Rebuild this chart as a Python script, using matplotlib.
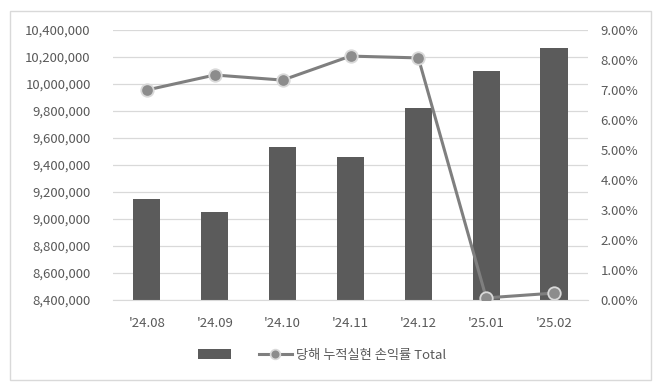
import matplotlib
matplotlib.use("Agg")
import matplotlib.pyplot as plt
from matplotlib.ticker import FuncFormatter, MultipleLocator
from matplotlib.lines import Line2D
from matplotlib.patches import Patch, Rectangle

plt.rcParams['font.family'] = ['Noto Sans CJK KR', 'DejaVu Sans']

categories = ["'24.08", "'24.09", "'24.10", "'24.11", "'24.12", "'25.01", "'25.02"]
bar_values = [9150000, 9050000, 9530000, 9460000, 9822000, 10100000, 10267000]
rate_values = [7.00, 7.50, 7.33, 8.13, 8.07, 0.07, 0.23]
line_label = "당해 누적실현 손익률 Total"

fig = plt.figure(figsize=(6.61, 3.9), dpi=100)
ax = fig.add_axes([113/661, 1 - 300/390, (588-113)/661, (300-30)/390])
ax2 = ax.twinx()

bar_color = '#5b5b5b'
line_color = '#7f7f7f'
text_color = '#595959'

x = list(range(len(categories)))
ax.bar(x, bar_values, width=0.4, color=bar_color, zorder=2)
ax.set_ylim(8400000, 10400000)
ax.set_xlim(-0.5, len(categories) - 0.5)
ax.yaxis.set_major_locator(MultipleLocator(200000))
ax.yaxis.set_major_formatter(FuncFormatter(lambda v, p: f"{int(round(v)):,}"))
ax.grid(axis='y', color='#d9d9d9', linewidth=0.9, zorder=0)
ax.set_axisbelow(True)
ax.set_xticks(x)
ax.set_xticklabels(categories)

ax2.plot(x, rate_values, color=line_color, linewidth=2.2, marker='o', markersize=9,
         markerfacecolor='#8c8c8c', markeredgecolor='#d9d9d9', markeredgewidth=1.3, zorder=3)
ax2.set_ylim(0, 9)
ax2.yaxis.set_major_locator(MultipleLocator(1))
ax2.yaxis.set_major_formatter(FuncFormatter(lambda v, p: f"{v:.2f}%"))

for a in (ax, ax2):
    for s in a.spines.values():
        s.set_visible(False)
    a.tick_params(length=0, labelsize=9.5, labelcolor=text_color)
ax.tick_params(axis='y', pad=16)
ax.tick_params(axis='x', pad=12)
ax2.tick_params(axis='y', pad=9)
ax.spines['bottom'].set_visible(True)
ax.spines['bottom'].set_color('#d9d9d9')

handles = [Patch(facecolor=bar_color, edgecolor='none'),
           Line2D([0], [0], color=line_color, linewidth=2.2, marker='o', markersize=7,
                  markerfacecolor='#8c8c8c', markeredgecolor='#d9d9d9', markeredgewidth=1.2)]
fig.legend(handles, ['', line_label], loc='center', bbox_to_anchor=(322/661, 1 - 355/390),
           ncol=2, frameon=False, fontsize=9.5, labelcolor=text_color,
           handlelength=2.5, columnspacing=1.8, handletextpad=0.3)

fig.patches.append(Rectangle((10/661, 1 - 380/390), 641/661, 369/390, transform=fig.transFigure,
                             fill=False, edgecolor='#d9d9d9', linewidth=1))

fig.savefig('out.png', dpi=100, facecolor='white')
